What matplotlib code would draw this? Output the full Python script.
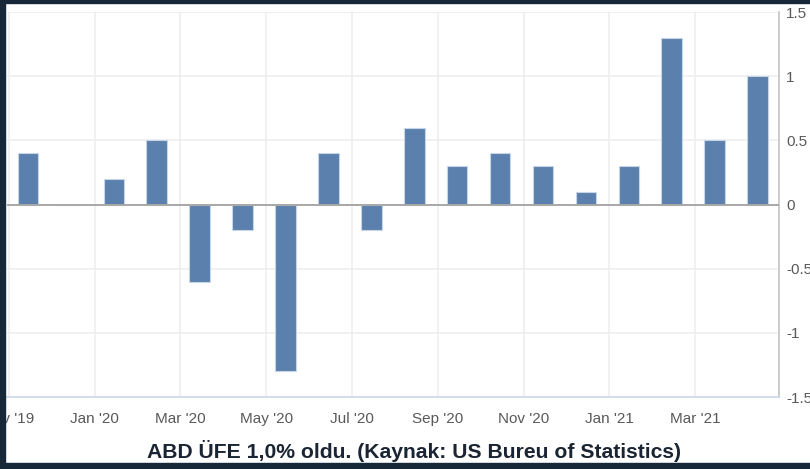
import numpy as np
import matplotlib.pyplot as plt
from matplotlib.patches import Rectangle

plt.rcParams['font.family'] = ['Liberation Sans', 'DejaVu Sans']

months = ["Nov '19", "Dec '19", "Jan '20", "Feb '20", "Mar '20", "Apr '20",
          "May '20", "Jun '20", "Jul '20", "Aug '20", "Sep '20", "Oct '20",
          "Nov '20", "Dec '20", "Jan '21", "Feb '21", "Mar '21", "Apr '21"]
ppi_change = [0.4, 0.0, 0.2, 0.5, -0.6, -0.2, -1.3, 0.4, -0.2, 0.6,
              0.3, 0.4, 0.3, 0.1, 0.3, 1.3, 0.5, 1.0]
tick_labels = ["Nov '19", "Jan '20", "Mar '20", "May '20", "Jul '20",
               "Sep '20", "Nov '20", "Jan '21", "Mar '21"]
y_ticks = [-1.5, -1, -0.5, 0, 0.5, 1, 1.5]
caption = "ABD ÜFE 1,0% oldu. (Kaynak: US Bureu of Statistics)"

fig = plt.figure(figsize=(8.1, 4.69), dpi=100, facecolor='white')
ax = fig.add_axes([7 / 810, 1 - 397 / 469, (779 - 7) / 810, (397 - 12) / 469])

x = np.arange(len(months))
ax.bar(x, ppi_change, width=0.48, color='#5b80ad', edgecolor='#c8d5e6',
       linewidth=0.8, zorder=3)
ax.axhline(0, color='#a8a8a8', linewidth=1.4, zorder=4)

# ticks sit on the first day of every second month, a bit left of the bar
tick_pos = [months.index(t) - 0.45 for t in tick_labels]
ax.set_xticks(tick_pos)
ax.set_xticklabels(tick_labels)
ax.set_xlim(-0.49, 17.5)

ax.set_ylim(-1.5, 1.5)
ax.set_yticks(y_ticks)
ax.set_yticklabels([f"{v:g}" for v in y_ticks])
ax.yaxis.tick_right()

ax.grid(True, color='#ededed', linewidth=1.1, zorder=0)
ax.tick_params(axis='x', length=0, pad=11, labelsize=11, labelcolor='#595959')
ax.tick_params(axis='y', length=0, pad=5, labelsize=11, labelcolor='#595959')

for side in ['top', 'left']:
    ax.spines[side].set_visible(False)
ax.spines['right'].set_color('#c4c4c4')
ax.spines['right'].set_linewidth(1.2)
ax.spines['bottom'].set_color('#ccd6eb')
ax.spines['bottom'].set_linewidth(1.2)

fig.text(0.511, 1 - 451 / 469, caption, ha='center', va='center',
         fontsize=15.2, fontweight='bold', color='#1a2432')

# dark frame around the screenshot
frame = '#172838'
fig.add_artist(Rectangle((0, 0), 5 / 810, 1, transform=fig.transFigure,
                         color=frame, zorder=10))
fig.add_artist(Rectangle((0, 1 - 3 / 469), 1, 3 / 469, transform=fig.transFigure,
                         color=frame, zorder=10))
fig.add_artist(Rectangle((0, 0), 1, 6 / 469, transform=fig.transFigure,
                         color=frame, zorder=10))

fig.savefig('out.png', dpi=100, facecolor='white')
